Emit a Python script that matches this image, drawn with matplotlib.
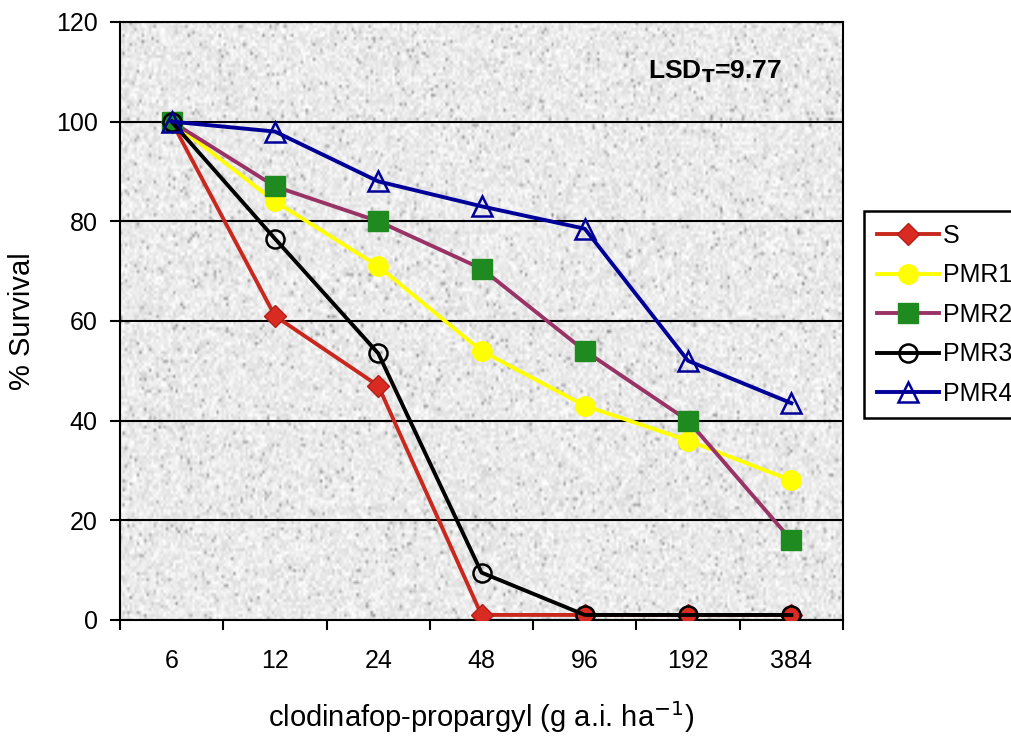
import numpy as np
import matplotlib.pyplot as plt

plt.rcParams['font.family'] = ['Liberation Sans', 'DejaVu Sans']

doses = ['6', '12', '24', '48', '96', '192', '384']
s_vals = [100, 61, 47, 1, 1, 1, 1]
pmr1 = [100, 84, 71, 54, 43, 36, 28]
pmr2 = [100, 87, 80, 70.5, 54, 40, 16]
pmr3 = [100, 76.5, 53.5, 9.5, 1, 1, 1]
pmr4 = [100, 98, 88, 83, 78.5, 52, 43.5]

fig = plt.figure(figsize=(10.12, 7.46), dpi=100)
ax = fig.add_axes([0.1186, 0.169, 0.7144, 0.8016])

# speckled grey background like the scanned original
rng = np.random.default_rng(3)
tex = 0.92 + 0.045 * rng.standard_normal((200, 300))
spots = rng.random((200, 300)) < 0.03
tex[spots] -= 0.25
tex = np.clip(tex, 0.45, 1.0)
ax.imshow(tex, cmap='gray', vmin=0, vmax=1, extent=[0, 1, 0, 1],
          transform=ax.transAxes, aspect='auto', interpolation='bilinear', zorder=0)

x = np.arange(len(doses))
lw = 2.8
ax.plot(x, s_vals, color='#c8281e', lw=lw, marker='D', ms=11,
        mfc='#d92b22', mec='#b0201a', label='S', zorder=3)
ax.plot(x, pmr1, color='#ffff00', lw=lw, marker='o', ms=14,
        mfc='#ffff00', mec='#ffff00', label='PMR1', zorder=3)
ax.plot(x, pmr2, color='#993366', lw=lw, marker='s', ms=14,
        mfc='#1f8a1f', mec='#1f8a1f', label='PMR2', zorder=3)
ax.plot(x, pmr3, color='black', lw=lw, marker='o', ms=13,
        mfc='none', mec='black', mew=1.8, label='PMR3', zorder=3)
ax.plot(x, pmr4, color='#000099', lw=lw, marker='^', ms=15,
        mfc='none', mec='#000099', mew=1.8, label='PMR4', zorder=3)

ax.set_xlim(-0.5, len(doses) - 0.5)
ax.set_ylim(0, 120)
ax.set_yticks(range(0, 121, 20))
ax.set_xticks(x)
ax.set_xticklabels(doses)
ax.set_xticks(np.arange(-0.5, len(doses), 1), minor=True)
ax.tick_params(axis='x', which='major', length=0, pad=21, labelsize=18)
ax.tick_params(axis='x', which='minor', length=7, width=1.5, direction='out')
ax.tick_params(axis='y', length=7, width=1.5, direction='out', labelsize=18, pad=9)
ax.yaxis.grid(True, color='black', lw=1.5)
ax.set_axisbelow(False)
for sp in ax.spines.values():
    sp.set_linewidth(1.5)

ax.set_ylabel('% Survival', fontsize=21, labelpad=14)
ax.set_xlabel('clodinafop-propargyl (g a.i. ha$^{-1}$)', fontsize=21, labelpad=19)

ax.text(0.823, 0.916, r'LSD$_\mathbf{T}$=9.77', transform=ax.transAxes,
        fontsize=19, fontweight='bold', ha='center', va='center')

leg = ax.legend(loc='center left', bbox_to_anchor=(0.854, 0.578),
                bbox_transform=fig.transFigure, fontsize=18,
                frameon=True, fancybox=False, edgecolor='black', framealpha=1,
                handlelength=2.5, handletextpad=0.15, labelspacing=0.62,
                borderpad=0.5, borderaxespad=0)
leg.get_frame().set_linewidth(1.8)

fig.savefig('out.png', dpi=100)
